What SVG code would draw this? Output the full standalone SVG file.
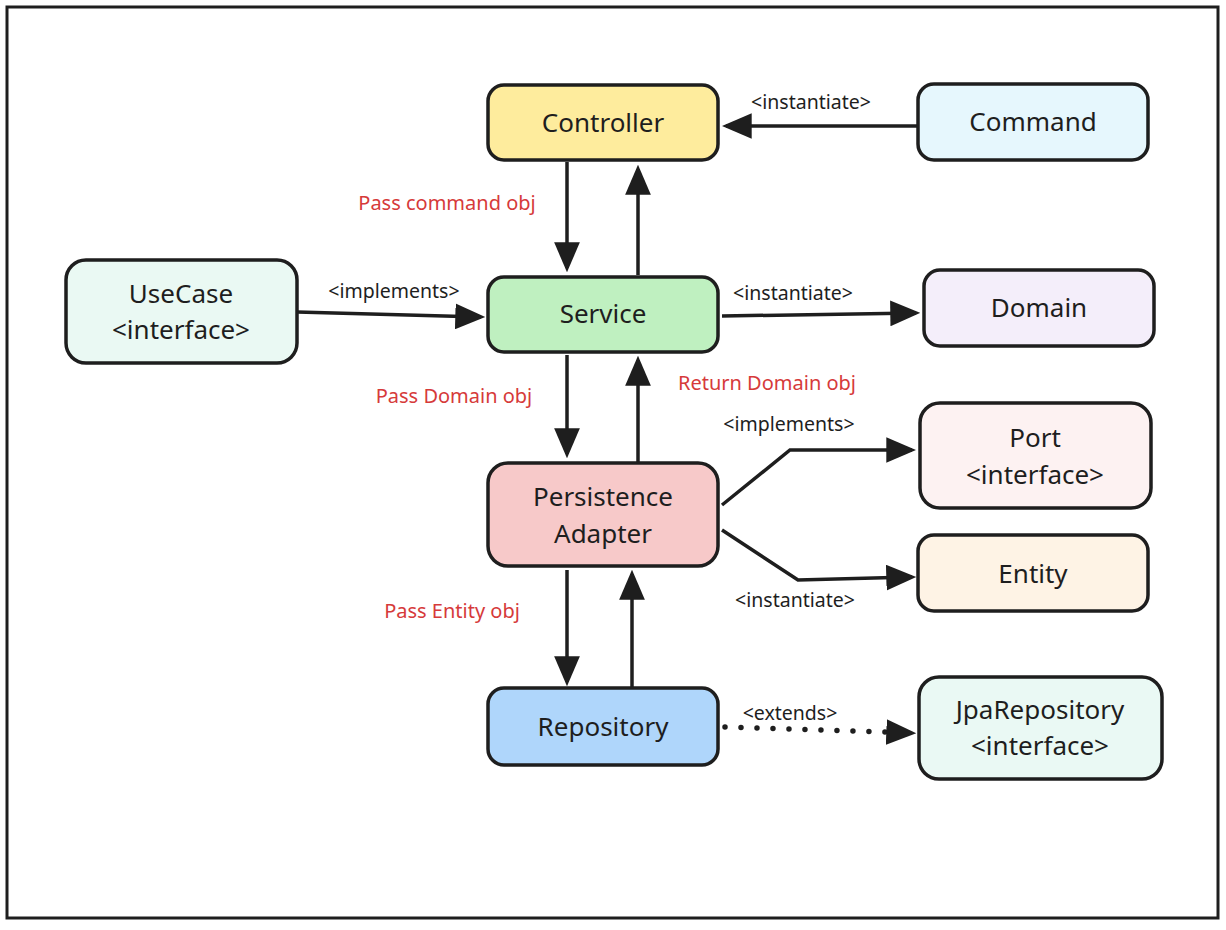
<svg xmlns="http://www.w3.org/2000/svg" width="1226" height="930" viewBox="0 0 1226 930">
<style>
.node rect{stroke:#1e1e1e;stroke-width:3.5}
.node text{font-family:"Noto Sans","Open Sans",sans-serif;font-size:26px;fill:#1e1e1e;text-anchor:middle;dominant-baseline:central}
.edge{stroke:#1e1e1e;stroke-width:3.5;fill:none}
.lbl{font-family:"Noto Sans","Open Sans",sans-serif;font-size:19.5px;fill:#1e1e1e;text-anchor:middle;dominant-baseline:central}
.red{font-family:"Noto Sans","Open Sans",sans-serif;font-size:20px;fill:#d63a3a;text-anchor:middle;dominant-baseline:central}
</style>
<defs>
<marker id="ah" markerUnits="userSpaceOnUse" markerWidth="30" markerHeight="26" refX="24" refY="12" orient="auto" viewBox="0 0 28 24">
<path d="M0,0 L28,12 L0,24 z" fill="#1e1e1e"/>
</marker>
</defs>
<rect x="0" y="0" width="1226" height="930" fill="#ffffff"/>
<rect x="7" y="7" width="1211" height="911" fill="#ffffff" stroke="#1e1e1e" stroke-width="3"/>
<g id="connectors">
<line class="edge" x1="918" y1="126" x2="726" y2="126" marker-end="url(#ah)"/>
<line class="edge" x1="567" y1="162" x2="567" y2="268" marker-end="url(#ah)"/>
<line class="edge" x1="638" y1="275" x2="638" y2="169" marker-end="url(#ah)"/>
<line class="edge" x1="297" y1="312" x2="481" y2="317" marker-end="url(#ah)"/>
<line class="edge" x1="722" y1="316" x2="916" y2="313" marker-end="url(#ah)"/>
<line class="edge" x1="567" y1="355" x2="567" y2="454" marker-end="url(#ah)"/>
<line class="edge" x1="638" y1="462" x2="638" y2="360" marker-end="url(#ah)"/>
<polyline class="edge" points="722,505 790,450 912,450" marker-end="url(#ah)"/>
<polyline class="edge" points="722,530 798,580 912,577" marker-end="url(#ah)"/>
<line class="edge" x1="567" y1="570" x2="567" y2="682" marker-end="url(#ah)"/>
<line class="edge" x1="632" y1="687" x2="632" y2="574" marker-end="url(#ah)"/>
<line x1="725" y1="727" x2="885" y2="732" stroke="#1e1e1e" stroke-width="5.5" stroke-linecap="round" stroke-dasharray="0 16"/>
<line x1="886" y1="732" x2="912" y2="733" stroke="none" marker-end="url(#ah)"/>
<text class="lbl" x="811" y="101">&lt;instantiate&gt;</text>
<text class="red" x="447" y="202">Pass command obj</text>
<text class="lbl" x="394" y="290">&lt;implements&gt;</text>
<text class="lbl" x="793" y="292">&lt;instantiate&gt;</text>
<text class="red" x="454" y="395">Pass Domain obj</text>
<text class="red" x="767" y="382">Return Domain obj</text>
<text class="lbl" x="789" y="423">&lt;implements&gt;</text>
<text class="lbl" x="795" y="599">&lt;instantiate&gt;</text>
<text class="red" x="452" y="610">Pass Entity obj</text>
<text class="lbl" x="790" y="712">&lt;extends&gt;</text>
</g>
<g id="controller" class="node"><rect x="488" y="85" width="230" height="75" rx="16" fill="#feec9d"/><text x="603" y="122">Controller</text></g>
<g id="command" class="node"><rect x="918" y="84" width="230" height="76" rx="16" fill="#e6f7fd"/><text x="1033" y="121">Command</text></g>
<g id="usecase" class="node"><rect x="66" y="260" width="231" height="103" rx="20" fill="#eaf9f3"/><text x="181" y="293">UseCase</text><text x="181" y="329">&lt;interface&gt;</text></g>
<g id="service" class="node"><rect x="488" y="277" width="230" height="75" rx="16" fill="#bff0c0"/><text x="603" y="313">Service</text></g>
<g id="domain" class="node"><rect x="924" y="270" width="230" height="76" rx="16" fill="#f4eefa"/><text x="1039" y="307">Domain</text></g>
<g id="persistence-adapter" class="node"><rect x="488" y="463" width="230" height="103" rx="20" fill="#f7c9c9"/><text x="603" y="496">Persistence</text><text x="603" y="533">Adapter</text></g>
<g id="port" class="node"><rect x="920" y="403" width="231" height="105" rx="20" fill="#fdf2f2"/><text x="1035" y="437">Port</text><text x="1035" y="474">&lt;interface&gt;</text></g>
<g id="entity" class="node"><rect x="918" y="535" width="230" height="76" rx="16" fill="#fef3e5"/><text x="1033" y="573">Entity</text></g>
<g id="repository" class="node"><rect x="488" y="688" width="230" height="77" rx="16" fill="#afd6fb"/><text x="603" y="726">Repository</text></g>
<g id="jparepository" class="node"><rect x="919" y="677" width="243" height="102" rx="20" fill="#eaf9f4"/><text x="1040" y="709">JpaRepository</text><text x="1040" y="745">&lt;interface&gt;</text></g>
</svg>
